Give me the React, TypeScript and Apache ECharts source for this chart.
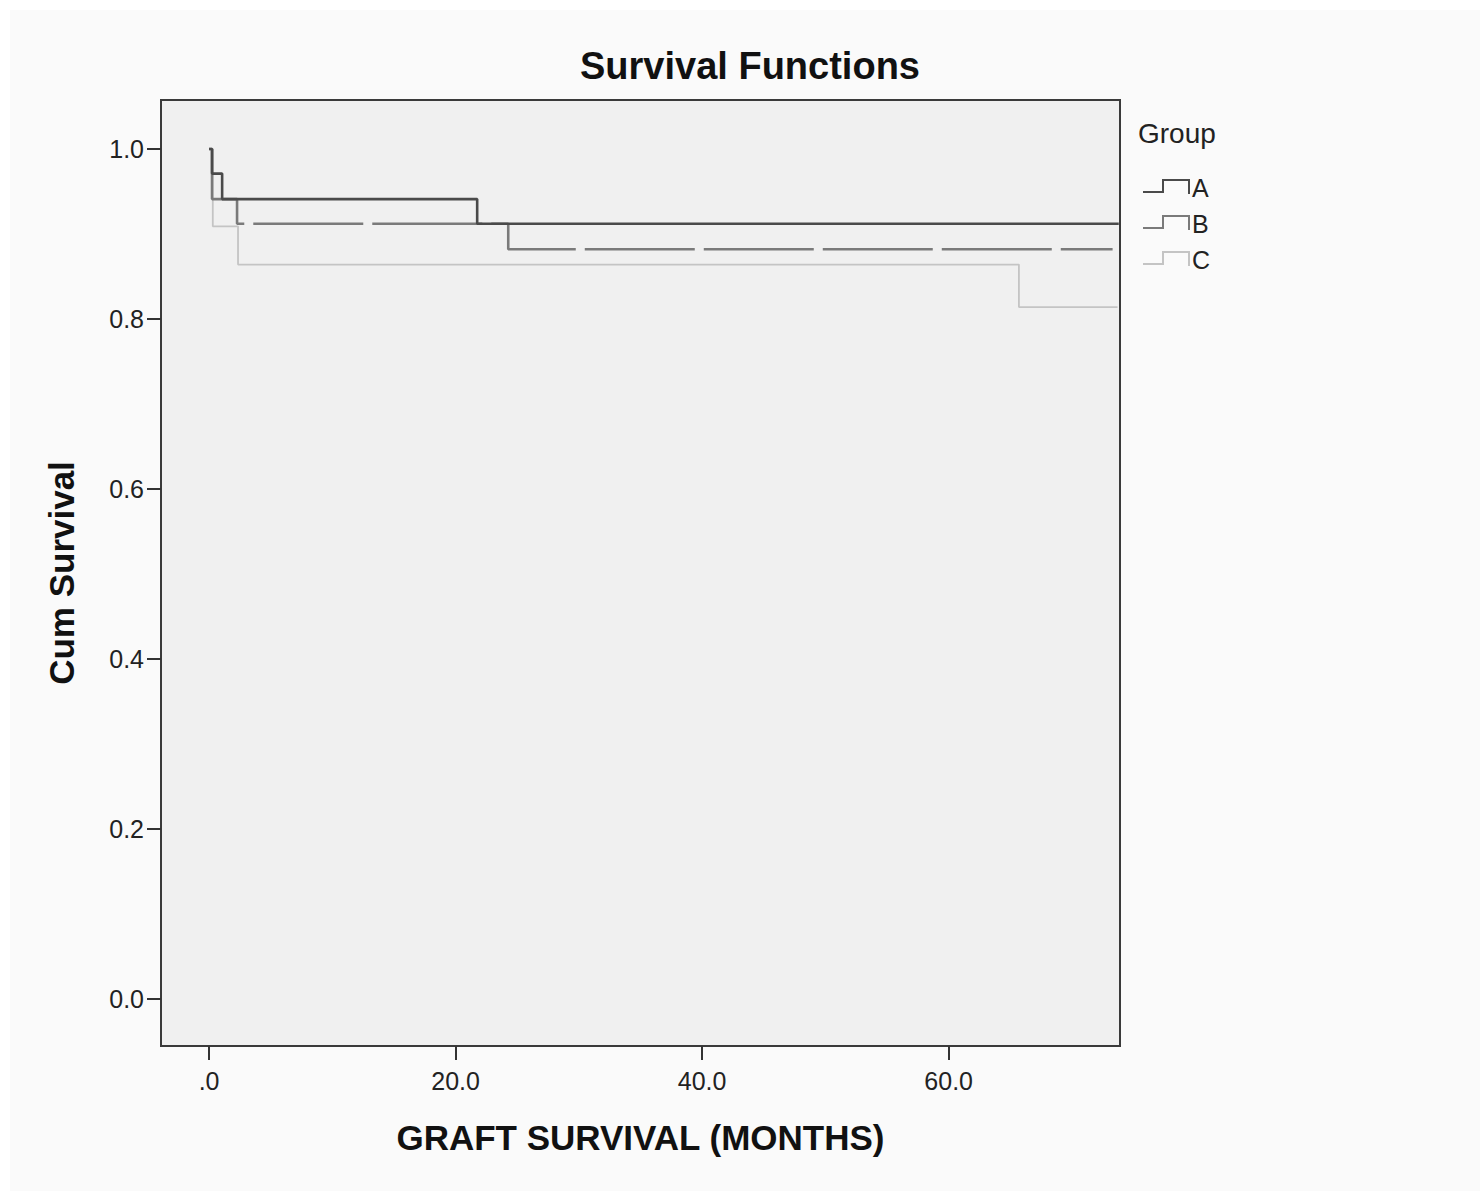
import React, { useEffect, useRef } from "react";
import * as echarts from "echarts";

const groupNames = ["A", "B", "C"];
const timesA = [0, 0.24, 1.06, 21.75, 73.8];
const survA = [1.0, 0.971, 0.941, 0.912, 0.912];
const timesB = [0, 0.24, 2.27, 24.27, 73.3];
const survB = [1.0, 0.941, 0.912, 0.882, 0.882];
const timesC = [0, 0.3, 2.35, 65.7, 73.7];
const survC = [1.0, 0.909, 0.864, 0.814, 0.814];
const xTicks = [0, 20, 40, 60];
const yTicks = [0, 0.2, 0.4, 0.6, 0.8, 1.0];

const colors = ["#4a4a4a", "#7a7a7a", "#c4c4c4"];
const widths = [2.6, 2.6, 1.8];

export default function App() {
  const ref = useRef<HTMLDivElement>(null);
  useEffect(() => {
    document.body.style.margin = "0";
    if (!ref.current) return;
    const chart = echarts.init(ref.current, null, { renderer: "svg" });
    const pairs = (t: number[], s: number[]) => t.map((v, i) => [v, s[i]]);
    const seriesData = [pairs(timesA, survA), pairs(timesB, survB), pairs(timesC, survC)];
    const font = "'Liberation Sans', Arial, sans-serif";

    const legendY = [188, 224, 260];
    const legendGraphics: any[] = [];
    groupNames.forEach((name, i) => {
      const yc = legendY[i];
      legendGraphics.push({
        type: "polyline",
        shape: {
          points: [
            [1143, yc + 4],
            [1163, yc + 4],
            [1163, yc - 8],
            [1189, yc - 8],
            [1189, yc + 6],
          ],
        },
        style: { stroke: colors[i], lineWidth: 2, fill: null },
      });
      legendGraphics.push({
        type: "text",
        x: 1192,
        y: yc,
        style: {
          text: name,
          font: `25px ${font}`,
          fill: "#222",
          verticalAlign: "middle",
        },
      });
    });

    chart.setOption({
      animation: false,
      backgroundColor: "#ffffff",
      textStyle: { fontFamily: font },
      graphic: [
        {
          type: "rect",
          z: -10,
          shape: { x: 10, y: 10, width: 1470, height: 1181 },
          style: { fill: "#fafafa" },
          silent: true,
        },
        {
          type: "text",
          x: 750,
          y: 66,
          style: {
            text: "Survival Functions",
            font: `bold 38px ${font}`,
            fill: "#111",
            align: "center",
            verticalAlign: "middle",
          },
        },
        {
          type: "text",
          x: 1138,
          y: 133,
          style: {
            text: "Group",
            font: `28px ${font}`,
            fill: "#222",
            verticalAlign: "middle",
          },
        },
        ...legendGraphics,
      ],
      grid: {
        left: 161,
        top: 100,
        right: 360,
        bottom: 145,
        show: true,
        backgroundColor: "#f0f0f0",
        borderColor: "#3a3a3a",
        borderWidth: 2,
      },
      xAxis: {
        type: "value",
        min: -3.9,
        max: 73.9,
        name: "GRAFT SURVIVAL (MONTHS)",
        nameLocation: "middle",
        nameGap: 74,
        nameTextStyle: { fontSize: 35, fontWeight: "bold", color: "#111", fontFamily: font },
        axisLine: { show: true, onZero: false, lineStyle: { color: "#3a3a3a", width: 2 } },
        axisTick: {
          show: true,
          inside: false,
          length: 14,
          customValues: xTicks,
          lineStyle: { color: "#333", width: 2 },
        },
        axisLabel: {
          customValues: xTicks,
          margin: 22,
          fontSize: 25,
          color: "#222",
          fontFamily: font,
          formatter: (v: number) => (v === 0 ? ".0" : v.toFixed(1)),
        },
        splitLine: { show: false },
      },
      yAxis: {
        type: "value",
        min: -0.0553,
        max: 1.0576,
        name: "Cum Survival",
        nameLocation: "middle",
        nameGap: 82,
        nameTextStyle: { fontSize: 35, fontWeight: "bold", color: "#111", fontFamily: font },
        axisLine: { show: true, onZero: false, lineStyle: { color: "#3a3a3a", width: 2 } },
        axisTick: {
          show: true,
          inside: false,
          length: 14,
          customValues: yTicks,
          lineStyle: { color: "#333", width: 2 },
        },
        axisLabel: {
          customValues: yTicks,
          margin: 17,
          fontSize: 25,
          color: "#222",
          fontFamily: font,
          formatter: (v: number) => v.toFixed(1),
        },
        splitLine: { show: false },
      },
      series: groupNames.map((name, i) => ({
        name,
        type: "line",
        step: "end",
        data: seriesData[i],
        showSymbol: false,
        symbol: "none",
        z: 3 - i,
        lineStyle: {
          color: colors[i],
          width: widths[i],
          type: i === 1 ? [110, 9] : "solid",
        },
      })),
    });
    return () => chart.dispose();
  }, []);
  return <div ref={ref} style={{ width: 1480, height: 1191 }} />;
}
